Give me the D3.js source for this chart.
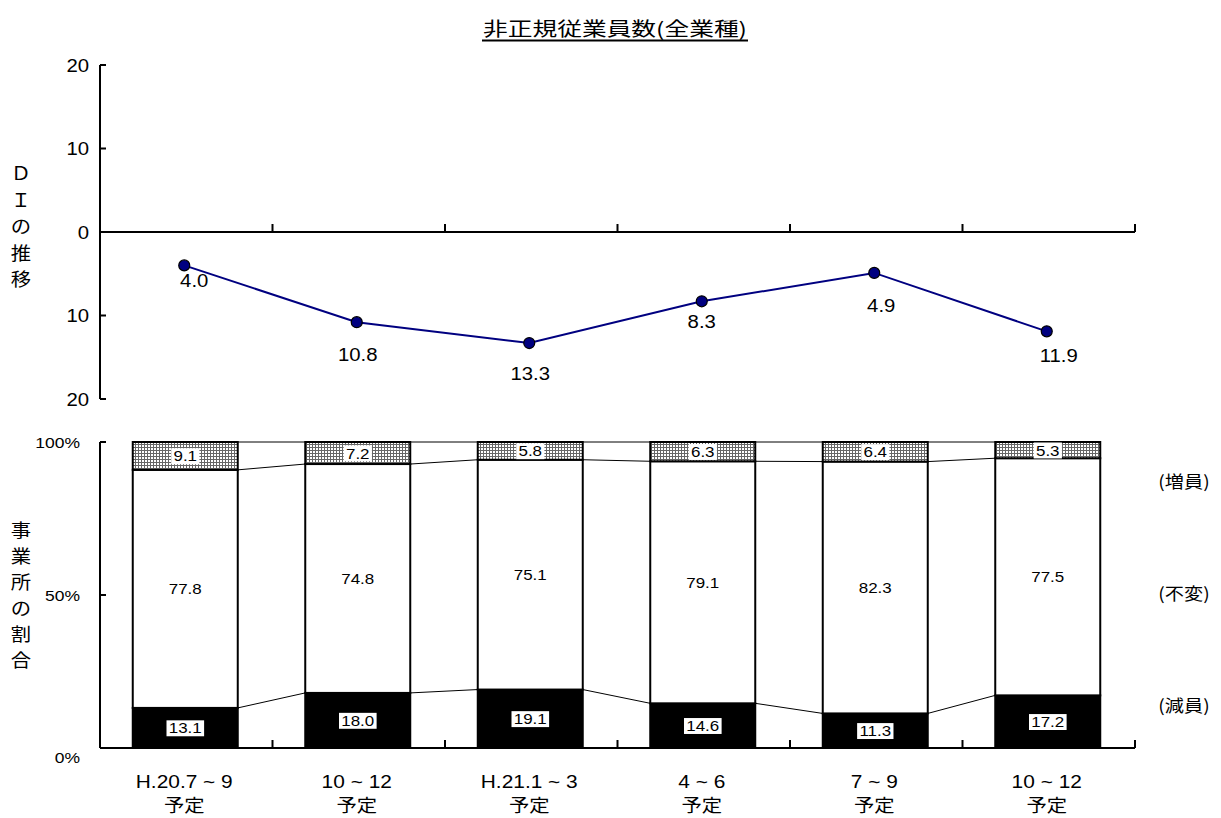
<!DOCTYPE html>
<html>
<head>
<meta charset="utf-8">
<script src="https://cdn.jsdelivr.net/npm/d3@7"></script>
<style>
  body { margin: 0; background: #fff; }
  text { font-family: "Liberation Sans", Arial, "Noto Sans CJK JP", sans-serif; fill: #000; }
  text.jp { font-family: "Noto Sans CJK JP", sans-serif; }
</style>
</head>
<body>
<div id="chart"></div>
<script>
// categories (two line labels)
const periods = ["H.20.7 ~ 9", "10 ~ 12", "H.21.1 ~ 3", "4 ~ 6", "7 ~ 9", "10 ~ 12"];
const periodSub = ["予定", "予定", "予定", "予定", "予定", "予定"];
// DI values (negative, shown as absolute)
const diValues = [-4.0, -10.8, -13.3, -8.3, -4.9, -11.9];
// shares of establishments (%)
const decrease = [13.1, 18.0, 19.1, 14.6, 11.3, 17.2];
const unchanged = [77.8, 74.8, 75.1, 79.1, 82.3, 77.5];
const increase = [9.1, 7.2, 5.8, 6.3, 6.4, 5.3];
const diTicks = [20, 10, 0, -10, -20];
const pctTicks = [0, 50, 100];

// label nudges for the DI values (layout only)
const diLabelDx = [10, 1, 1, 0, 7, 12];
const diLabelDy = [15, 32, 30, 20, 33, 24];

const W = 1221, H = 818;
const SX = 1.13; // text in the picture is a bit wider than tall
const svg = d3.select("#chart").append("svg")
    .attr("width", W).attr("height", H);

// place text with horizontal stretch
function put(sel, fx, fy) {
  return sel.attr("transform", (d, i) => `translate(${fx(d, i)},${fy(d, i)}) scale(${SX},1)`);
}

const defs = svg.append("defs");
const pat = defs.append("pattern")
    .attr("id", "grid").attr("patternUnits", "userSpaceOnUse")
    .attr("width", 3).attr("height", 3);
pat.append("rect").attr("width", 3).attr("height", 3).attr("fill", "#fff");
pat.append("path").attr("d", "M0,0.5H3M0.5,0V3")
    .attr("stroke", "#666").attr("stroke-width", 1);

const x = d3.scaleBand().domain(d3.range(periods.length)).range([100, 1135]).padding(0);
const barW = 105;

// title
svg.append("text").attr("class", "jp")
    .attr("x", 615).attr("y", 36).attr("text-anchor", "middle")
    .attr("font-size", 19)
    .attr("textLength", 264).attr("lengthAdjust", "spacingAndGlyphs")
    .text("非正規従業員数(全業種)");
svg.append("line").attr("x1", 482).attr("x2", 748)
    .attr("y1", 40.5).attr("y2", 40.5).attr("stroke", "#000").attr("stroke-width", 2);

// ---- top panel: DI line ----
const yDI = d3.scaleLinear().domain([20, -20]).range([65, 399]);

const gTop = svg.append("g");
gTop.append("line").attr("x1", 100).attr("x2", 100)
    .attr("y1", yDI(20)).attr("y2", yDI(-20)).attr("stroke", "#000").attr("stroke-width", 2);
gTop.selectAll(".yt").data(diTicks).enter().append("line")
    .attr("x1", 100).attr("x2", 106)
    .attr("y1", d => yDI(d)).attr("y2", d => yDI(d))
    .attr("stroke", "#000").attr("stroke-width", 2);
put(gTop.selectAll(".ytl").data(diTicks).enter().append("text")
    .attr("text-anchor", "end").attr("font-size", 18)
    .text(d => Math.abs(d)), () => 89, d => yDI(d) + 6.5);
// zero axis
gTop.append("line").attr("x1", 100).attr("x2", 1135)
    .attr("y1", yDI(0)).attr("y2", yDI(0)).attr("stroke", "#000").attr("stroke-width", 2);
gTop.selectAll(".xt").data(d3.range(1, periods.length + 1)).enter().append("line")
    .attr("x1", i => x.step() * i + 100).attr("x2", i => x.step() * i + 100)
    .attr("y1", yDI(0)).attr("y2", yDI(0) - 8)
    .attr("stroke", "#000").attr("stroke-width", 2);

const cx = (d, i) => x(i) + x.bandwidth() / 2 - 2;
const line = d3.line().x(cx).y(d => yDI(d));
gTop.append("path").datum(diValues).attr("d", line)
    .attr("fill", "none").attr("stroke", "#000080").attr("stroke-width", 2);
gTop.selectAll(".dot").data(diValues).enter().append("circle")
    .attr("cx", cx).attr("cy", d => yDI(d))
    .attr("r", 5.5).attr("fill", "#000080").attr("stroke", "#000").attr("stroke-width", 1.2);
put(gTop.selectAll(".dl").data(diValues).enter().append("text")
    .attr("text-anchor", "middle").attr("font-size", 18)
    .text(d => Math.abs(d).toFixed(1)),
    (d, i) => cx(d, i) + diLabelDx[i], (d, i) => yDI(d) + diLabelDy[i] + 6.5);

// vertical label
const diLab = ["Ｄ", "Ｉ", "の", "推", "移"];
put(svg.selectAll(".dil").data(diLab).enter().append("text").attr("class", "jp")
    .attr("text-anchor", "middle").attr("font-size", 18).text(d => d),
    () => 21, (d, i) => 180 + i * 26.5);

// ---- bottom panel: stacked bars ----
const yP = d3.scaleLinear().domain([0, 100]).range([748, 442]);
const stackData = periods.map((p, i) => ({ dec: decrease[i], unc: unchanged[i], inc: increase[i] }));
const stack = d3.stack().keys(["dec", "unc", "inc"])(stackData);
const fills = { dec: "#000", unc: "#fff", inc: "url(#grid)" };

const gBot = svg.append("g");
const barX = i => x(i) + (x.bandwidth() - barW) / 2 - 1;

// series lines between bars
stack.forEach(s => {
  for (let i = 0; i < periods.length - 1; i++) {
    gBot.append("line")
        .attr("x1", barX(i) + barW).attr("x2", barX(i + 1))
        .attr("y1", yP(s[i][1])).attr("y2", yP(s[i + 1][1]))
        .attr("stroke", "#000").attr("stroke-width", 1);
  }
});

stack.forEach(s => {
  gBot.selectAll(".b-" + s.key).data(s).enter().append("rect")
      .attr("x", (d, i) => barX(i)).attr("width", barW)
      .attr("y", d => yP(d[1])).attr("height", d => yP(d[0]) - yP(d[1]))
      .attr("fill", fills[s.key]).attr("stroke", "#000").attr("stroke-width", 2);
});

// value labels
stack.forEach(s => {
  const g = gBot.selectAll(".l-" + s.key).data(s).enter().append("g")
      .attr("transform", (d, i) => `translate(${barX(i) + barW / 2},${(yP(d[0]) + yP(d[1])) / 2}) scale(${SX},1)`);
  const t = g.append("text").attr("text-anchor", "middle").attr("y", 5.5)
      .attr("font-size", 15).text(d => (d[1] - d[0]).toFixed(1));
  if (s.key !== "unc") {
    t.each(function () {
      const b = this.getBBox();
      d3.select(this.parentNode).insert("rect", "text")
          .attr("x", b.x - 2).attr("y", b.y).attr("width", b.width + 4).attr("height", b.height)
          .attr("fill", "#fff");
    });
  }
});

// axes
gBot.append("line").attr("x1", 100).attr("x2", 100)
    .attr("y1", yP(100)).attr("y2", yP(0)).attr("stroke", "#000").attr("stroke-width", 2);
gBot.append("line").attr("x1", 100).attr("x2", 1135)
    .attr("y1", yP(0)).attr("y2", yP(0)).attr("stroke", "#000").attr("stroke-width", 2);
gBot.selectAll(".pt").data(pctTicks).enter().append("line")
    .attr("x1", 100).attr("x2", 106)
    .attr("y1", d => yP(d)).attr("y2", d => yP(d))
    .attr("stroke", "#000").attr("stroke-width", 2);
put(gBot.selectAll(".ptl").data(pctTicks).enter().append("text")
    .attr("text-anchor", "end").attr("font-size", 15.5)
    .text(d => d + "%"), () => 80, d => yP(d) + (d === 0 ? 15 : 6));
gBot.selectAll(".xt").data(d3.range(1, periods.length + 1)).enter().append("line")
    .attr("x1", i => x.step() * i + 100).attr("x2", i => x.step() * i + 100)
    .attr("y1", yP(0)).attr("y2", yP(0) - 8)
    .attr("stroke", "#000").attr("stroke-width", 2);

// category labels
put(gBot.selectAll(".cl").data(periods).enter().append("text")
    .attr("text-anchor", "middle").attr("font-size", 18.5).text(d => d),
    cx, () => 788);
put(gBot.selectAll(".cl2").data(periodSub).enter().append("text").attr("class", "jp")
    .attr("text-anchor", "middle").attr("font-size", 18).text(d => d),
    cx, () => 812);

const pLab = ["事", "業", "所", "の", "割", "合"];
put(svg.selectAll(".pl").data(pLab).enter().append("text").attr("class", "jp")
    .attr("text-anchor", "middle").attr("font-size", 18).text(d => d),
    () => 21, (d, i) => 537 + i * 26);

const rightLab = [["(増員)", 482], ["(不変)", 594], ["(減員)", 706]];
put(svg.selectAll(".rl").data(rightLab).enter().append("text").attr("class", "jp")
    .attr("text-anchor", "middle").attr("font-size", 17).text(d => d[0]),
    () => 1184, d => d[1] + 6);
</script>
</body>
</html>
